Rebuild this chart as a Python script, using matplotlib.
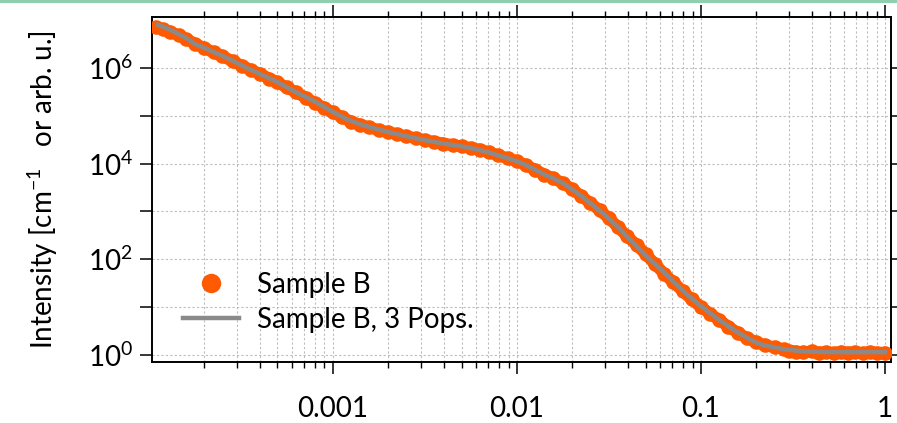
import matplotlib
matplotlib.use("Agg")
import matplotlib.pyplot as plt
from matplotlib.lines import Line2D
from matplotlib.ticker import FixedLocator, FixedFormatter, NullFormatter

plt.rcParams['font.family'] = ['Lato', 'DejaVu Sans']
plt.rcParams['mathtext.fontset'] = 'custom'
plt.rcParams['mathtext.rm'] = 'Lato'
plt.rcParams['mathtext.it'] = 'Lato:italic'

# Fit curve (Sample B, 3 Pops.)
q_fit = [1.122e-4, 1.259e-4, 1.413e-4, 1.585e-4, 1.778e-4, 1.995e-4, 2.512e-4, 2.884e-4,
         3.388e-4, 3.981e-4, 5.012e-4, 6.310e-4, 7.943e-4, 1.0e-3, 1.2e-3, 1.41e-3, 1.66e-3,
         2.0e-3, 2.51e-3, 3.16e-3, 3.98e-3, 5.01e-3, 6.0e-3, 7.08e-3, 7.94e-3, 8.91e-3,
         1.0e-2, 1.12e-2, 1.26e-2, 1.41e-2, 1.58e-2, 1.78e-2, 2.0e-2, 2.24e-2, 2.51e-2,
         3.0e-2, 3.55e-2, 3.98e-2, 4.68e-2, 5.25e-2, 6.17e-2, 7.08e-2, 8.32e-2, 9.55e-2,
         0.110, 0.126, 0.145, 0.162, 0.182, 0.200, 0.224, 0.251, 0.282, 0.316, 0.355,
         0.398, 0.50, 0.63, 0.79, 1.0]
I_fit = [7.94e6, 6.61e6, 5.37e6, 4.27e6, 3.16e6, 2.63e6, 1.78e6, 1.38e6,
         1.0e6, 7.59e5, 5.01e5, 3.09e5, 2.0e5, 1.20e5, 8.32e4, 6.61e4, 5.50e4,
         4.57e4, 3.72e4, 3.09e4, 2.63e4, 2.29e4, 2.0e4, 1.70e4, 1.48e4, 1.29e4,
         1.12e4, 9.33e3, 7.41e3, 5.89e3, 4.90e3, 3.89e3, 2.88e3, 2.09e3, 1.48e3,
         851, 468, 295, 158, 102, 57.5, 33.9, 19.1, 12.0,
         7.94, 5.37, 3.72, 2.82, 2.19, 1.82, 1.58, 1.45, 1.32, 1.26, 1.20,
         1.17, 1.15, 1.15, 1.15, 1.15]

# Measured data (Sample B)
q_data = [1.10e-4, 1.20e-4, 1.30e-4, 1.45e-4, 1.60e-4, 1.78e-4, 2.0e-4, 2.25e-4, 2.5e-4,
          2.85e-4, 3.2e-4, 3.6e-4, 4.0e-4, 4.5e-4, 5.0e-4, 5.6e-4, 6.3e-4, 7.1e-4, 8.0e-4,
          9.0e-4, 1.0e-3, 1.12e-3, 1.26e-3, 1.41e-3, 1.58e-3, 1.78e-3, 2.0e-3, 2.24e-3,
          2.51e-3, 2.82e-3, 3.16e-3, 3.55e-3, 3.98e-3, 4.47e-3, 5.01e-3, 5.62e-3, 6.31e-3,
          7.08e-3, 7.94e-3, 8.91e-3, 1.0e-2, 1.12e-2, 1.26e-2, 1.41e-2, 1.58e-2, 1.78e-2,
          2.0e-2, 2.24e-2, 2.51e-2, 2.82e-2, 3.16e-2, 3.55e-2, 3.98e-2, 4.47e-2, 5.01e-2,
          5.62e-2, 6.31e-2, 7.08e-2, 7.94e-2, 8.91e-2, 0.100, 0.112, 0.126, 0.141, 0.158,
          0.178, 0.200, 0.224, 0.251, 0.282, 0.300, 0.330, 0.360, 0.400, 0.440, 0.480,
          0.530, 0.580, 0.630, 0.690, 0.760, 0.830, 0.910, 1.0]
I_data = [7.2e6, 6.4e6, 5.7e6, 4.8e6, 4.0e6, 3.2e6, 2.6e6, 2.1e6, 1.78e6,
          1.37e6, 1.12e6, 8.9e5, 7.6e5, 6.0e5, 5.0e5, 3.9e5, 3.1e5, 2.4e5, 1.85e5,
          1.45e5, 1.18e5, 9.3e4, 7.5e4, 6.5e4, 5.7e4, 5.0e4, 4.55e4, 4.1e4,
          3.7e4, 3.4e4, 3.1e4, 2.85e4, 2.62e4, 2.45e4, 2.28e4, 2.12e4, 1.95e4,
          1.72e4, 1.48e4, 1.29e4, 1.12e4, 9.3e3, 7.4e3, 5.9e3, 4.9e3, 3.9e3,
          2.9e3, 2.1e3, 1.48e3, 1.06e3, 720, 470, 300, 200, 128,
          80, 50, 33, 22, 14.5, 10.2, 7.3, 5.4, 3.9, 2.95,
          2.25, 1.85, 1.6, 1.45, 1.33, 1.24, 1.18, 1.14, 1.19, 1.12, 1.17,
          1.10, 1.18, 1.12, 1.16, 1.09, 1.17, 1.11, 1.13]

x_major = [1e-3, 1e-2, 1e-1, 1.0]
x_labels = ['0.001', '0.01', '0.1', '1']
y_major = [1e0, 1e1, 1e2, 1e3, 1e4, 1e5, 1e6]
y_labels = [r'$\mathregular{10^{0}}$', '', r'$\mathregular{10^{2}}$', '',
            r'$\mathregular{10^{4}}$', '', r'$\mathregular{10^{6}}$']
x_minor = [m * d for d in (1e-4, 1e-3, 1e-2, 1e-1) for m in range(2, 10)]

orange = '#ff5a00'
grey = '#8a8a8a'
FS = 20

fig = plt.figure(figsize=(8.97, 4.23), dpi=100)
ax = fig.add_axes([152 / 897, 1 - 361.7 / 423, (890.7 - 152) / 897, (361.7 - 17.3) / 423])

ax.plot(q_data, I_data, '-', color=orange, lw=8.5, solid_capstyle='round', zorder=3)
ax.plot(q_data, I_data, 'o', color=orange, ms=10.5, mec='none', zorder=3)
ax.plot(q_fit, I_fit, '-', color=grey, lw=3.2, zorder=4)

ax.set_xscale('log')
ax.set_yscale('log')
ax.set_xlim(1.04e-4, 1.074)
ax.set_ylim(0.726, 1.14e7)

ax.xaxis.set_major_locator(FixedLocator(x_major))
ax.xaxis.set_major_formatter(FixedFormatter(x_labels))
ax.xaxis.set_minor_locator(FixedLocator(x_minor))
ax.xaxis.set_minor_formatter(NullFormatter())
ax.yaxis.set_major_locator(FixedLocator(y_major))
ax.yaxis.set_major_formatter(FixedFormatter(y_labels))
ax.yaxis.set_minor_locator(FixedLocator([]))

ax.tick_params(which='major', direction='out', length=8.6, width=1.1, labelsize=FS,
               top=True, right=True)
ax.tick_params(which='minor', direction='out', length=4.4, width=1.0, top=True, right=True)
ax.tick_params(axis='x', which='major', pad=16)
ax.tick_params(axis='y', which='major', pad=5)

for s in ax.spines.values():
    s.set_linewidth(1.4)

ax.grid(True, which='major', axis='both', color='#bdbdbd', lw=0.8, ls=(0, (2, 2)), zorder=0)
ax.grid(True, which='minor', axis='x', color='#bdbdbd', lw=0.8, ls=(0, (2, 2)), zorder=0)

ax.set_ylabel(r'Intensity [cm$^{\mathregular{-1}}$   or arb. u.]', fontsize=20, labelpad=20)

handles = [Line2D([], [], marker='o', ls='none', color=orange, ms=14, mec='none'),
           Line2D([], [], ls='-', color=grey, lw=3.2)]
leg = ax.legend(handles, ['Sample B', 'Sample B, 3 Pops.'], loc='upper left',
                bbox_to_anchor=(183 / 897, 1 - 272 / 423), bbox_transform=fig.transFigure,
                frameon=False, fontsize=FS, handlelength=2.0, handletextpad=0.65,
                labelspacing=0.32, borderpad=0, borderaxespad=0)

fig.add_artist(Line2D([0, 1], [1 - 1.5 / 423, 1 - 1.5 / 423], transform=fig.transFigure,
                      color='#8fcfae', lw=2.2))

fig.savefig('out.png', dpi=100)
